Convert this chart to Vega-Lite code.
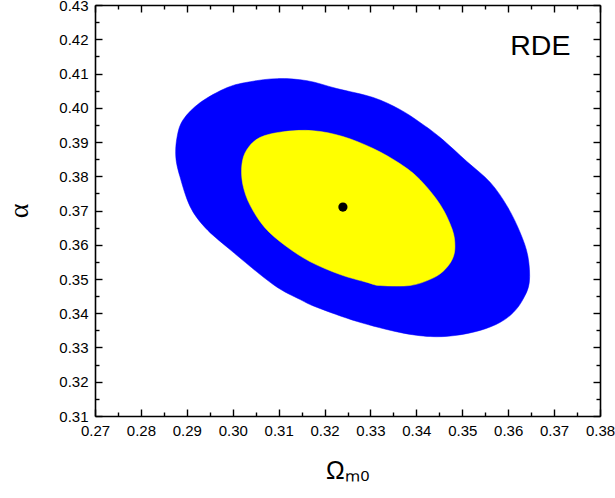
{
  "$schema": "https://vega.github.io/schema/vega-lite/v6.json",
  "autosize": {"type": "none"},
  "padding": {"left": 95, "top": 5, "right": 15, "bottom": 82},
  "width": 505,
  "height": 411,
  "background": "white",
  "config": {
    "view": {"stroke": null},
    "axis": {
      "domainColor": "black",
      "domainWidth": 1.6,
      "tickColor": "black",
      "tickWidth": 1.4,
      "grid": false,
      "labelFont": "Liberation Sans",
      "labelFontSize": 15,
      "labelColor": "black"
    }
  },
  "datasets": {
    "outer": [
      {"i": 1, "x": 0.3097, "y": 0.4085}, {"i": 2, "x": 0.3162, "y": 0.4079}, {"i": 3, "x": 0.3227, "y": 0.4056},
      {"i": 4, "x": 0.3306, "y": 0.4030}, {"i": 5, "x": 0.3364, "y": 0.3995}, {"i": 6, "x": 0.3408, "y": 0.3957},
      {"i": 7, "x": 0.3452, "y": 0.3913}, {"i": 8, "x": 0.3510, "y": 0.3843}, {"i": 9, "x": 0.3561, "y": 0.3782},
      {"i": 10, "x": 0.3598, "y": 0.3712}, {"i": 11, "x": 0.3626, "y": 0.3636}, {"i": 12, "x": 0.3643, "y": 0.3566},
      {"i": 13, "x": 0.3646, "y": 0.3490}, {"i": 14, "x": 0.3632, "y": 0.3440}, {"i": 15, "x": 0.3611, "y": 0.3402},
      {"i": 16, "x": 0.3582, "y": 0.3373}, {"i": 17, "x": 0.3539, "y": 0.3350}, {"i": 18, "x": 0.3484, "y": 0.3335},
      {"i": 19, "x": 0.3430, "y": 0.3332}, {"i": 20, "x": 0.3364, "y": 0.3344}, {"i": 21, "x": 0.3271, "y": 0.3376},
      {"i": 22, "x": 0.3184, "y": 0.3417}, {"i": 23, "x": 0.3147, "y": 0.3440}, {"i": 24, "x": 0.3088, "y": 0.3484},
      {"i": 25, "x": 0.2994, "y": 0.3586}, {"i": 26, "x": 0.2940, "y": 0.3650}, {"i": 27, "x": 0.2907, "y": 0.3712},
      {"i": 28, "x": 0.2885, "y": 0.3799}, {"i": 29, "x": 0.2876, "y": 0.3857}, {"i": 30, "x": 0.2879, "y": 0.3916},
      {"i": 31, "x": 0.2892, "y": 0.3965}, {"i": 32, "x": 0.2929, "y": 0.4015}, {"i": 33, "x": 0.2988, "y": 0.4059},
      {"i": 34, "x": 0.3038, "y": 0.4076}
    ],
    "inner": [
      {"i": 1, "x": 0.3110, "y": 0.3930}, {"i": 2, "x": 0.3175, "y": 0.3933}, {"i": 3, "x": 0.3240, "y": 0.3916},
      {"i": 4, "x": 0.3306, "y": 0.3881}, {"i": 5, "x": 0.3364, "y": 0.3837}, {"i": 6, "x": 0.3408, "y": 0.3790},
      {"i": 7, "x": 0.3452, "y": 0.3717}, {"i": 8, "x": 0.3478, "y": 0.3645}, {"i": 9, "x": 0.3484, "y": 0.3595},
      {"i": 10, "x": 0.3478, "y": 0.3557}, {"i": 11, "x": 0.3458, "y": 0.3522}, {"i": 12, "x": 0.3430, "y": 0.3499},
      {"i": 13, "x": 0.3386, "y": 0.3481}, {"i": 14, "x": 0.3321, "y": 0.3481}, {"i": 15, "x": 0.3293, "y": 0.3490},
      {"i": 16, "x": 0.3234, "y": 0.3513}, {"i": 17, "x": 0.3168, "y": 0.3551}, {"i": 18, "x": 0.3114, "y": 0.3598},
      {"i": 19, "x": 0.3070, "y": 0.3650}, {"i": 20, "x": 0.3038, "y": 0.3715}, {"i": 21, "x": 0.3022, "y": 0.3776},
      {"i": 22, "x": 0.3020, "y": 0.3834}, {"i": 23, "x": 0.3031, "y": 0.3878}, {"i": 24, "x": 0.3059, "y": 0.3913}
    ],
    "best": [{"x": 0.324, "y": 0.371}],
    "label": [{"text": "RDE", "x": 0.367, "y": 0.4155}]
  },
  "layer": [
    {
      "data": {"name": "outer"},
      "mark": {"type": "line", "interpolate": "cardinal-closed", "fill": "#0000ff", "stroke": "#0000ff", "strokeWidth": 0.5, "fillOpacity": 1},
      "encoding": {
        "order": {"field": "i", "type": "quantitative"},
        "x": {
          "field": "x", "type": "quantitative",
          "scale": {"domain": [0.27, 0.38], "nice": false, "zero": false},
          "axis": {
            "orient": "bottom",
            "title": "Ωₘ₀",
            "titleFont": "Liberation Sans",
            "titleFontSize": 25,
            "titleFontWeight": "normal",
            "titleColor": "black",
            "titlePadding": 17,
            "values": [0.27, 0.275, 0.28, 0.285, 0.29, 0.295, 0.3, 0.305, 0.31, 0.315, 0.32, 0.325, 0.33, 0.335, 0.34, 0.345, 0.35, 0.355, 0.36, 0.365, 0.37, 0.375, 0.38],
            "labelExpr": "abs(datum.value*100 - round(datum.value*100)) < 0.01 ? format(datum.value, '.2f') : ''",
            "tickSize": {"condition": {"test": "abs(datum.value*100 - round(datum.value*100)) < 0.01", "value": -7}, "value": -4},
            "labelPadding": 14,
            "labelFlush": false,
            "labelOverlap": false
          }
        },
        "y": {
          "field": "y", "type": "quantitative",
          "scale": {"domain": [0.31, 0.43], "nice": false, "zero": false},
          "axis": {
            "orient": "left",
            "title": "α",
            "titleFont": "Liberation Serif",
            "titleFontSize": 28,
            "titleFontWeight": "normal",
            "titleColor": "black",
            "titlePadding": 25,
            "values": [0.31, 0.315, 0.32, 0.325, 0.33, 0.335, 0.34, 0.345, 0.35, 0.355, 0.36, 0.365, 0.37, 0.375, 0.38, 0.385, 0.39, 0.395, 0.4, 0.405, 0.41, 0.415, 0.42, 0.425, 0.43],
            "labelExpr": "abs(datum.value*100 - round(datum.value*100)) < 0.01 ? format(datum.value, '.2f') : ''",
            "tickSize": {"condition": {"test": "abs(datum.value*100 - round(datum.value*100)) < 0.01", "value": -7}, "value": -4},
            "labelPadding": 14,
            "labelFlush": false,
            "labelOverlap": false
          }
        }
      }
    },
    {
      "data": {"name": "inner"},
      "mark": {"type": "line", "interpolate": "cardinal-closed", "fill": "#ffff00", "stroke": "#ffff00", "strokeWidth": 0.5, "fillOpacity": 1},
      "encoding": {
        "order": {"field": "i", "type": "quantitative"},
        "x": {
          "field": "x", "type": "quantitative",
          "axis": {
            "orient": "top",
            "title": null,
            "labels": false,
            "values": [0.27, 0.275, 0.28, 0.285, 0.29, 0.295, 0.3, 0.305, 0.31, 0.315, 0.32, 0.325, 0.33, 0.335, 0.34, 0.345, 0.35, 0.355, 0.36, 0.365, 0.37, 0.375, 0.38],
            "tickSize": {"condition": {"test": "abs(datum.value*100 - round(datum.value*100)) < 0.01", "value": -7}, "value": -4}
          }
        },
        "y": {
          "field": "y", "type": "quantitative",
          "axis": {
            "orient": "right",
            "title": null,
            "labels": false,
            "values": [0.31, 0.315, 0.32, 0.325, 0.33, 0.335, 0.34, 0.345, 0.35, 0.355, 0.36, 0.365, 0.37, 0.375, 0.38, 0.385, 0.39, 0.395, 0.4, 0.405, 0.41, 0.415, 0.42, 0.425, 0.43],
            "tickSize": {"condition": {"test": "abs(datum.value*100 - round(datum.value*100)) < 0.01", "value": -7}, "value": -4}
          }
        }
      }
    },
    {
      "data": {"name": "best"},
      "mark": {"type": "point", "filled": true, "color": "black", "size": 85, "opacity": 1},
      "encoding": {
        "x": {"field": "x", "type": "quantitative", "axis": null},
        "y": {"field": "y", "type": "quantitative", "axis": null}
      }
    },
    {
      "data": {"name": "label"},
      "mark": {"type": "text", "font": "Liberation Sans", "fontSize": 28.5, "align": "center", "baseline": "alphabetic", "color": "black"},
      "encoding": {
        "x": {"field": "x", "type": "quantitative", "axis": null},
        "y": {"field": "y", "type": "quantitative", "axis": null},
        "text": {"field": "text"}
      }
    }
  ],
  "resolve": {"axis": {"x": "independent", "y": "independent"}}
}
